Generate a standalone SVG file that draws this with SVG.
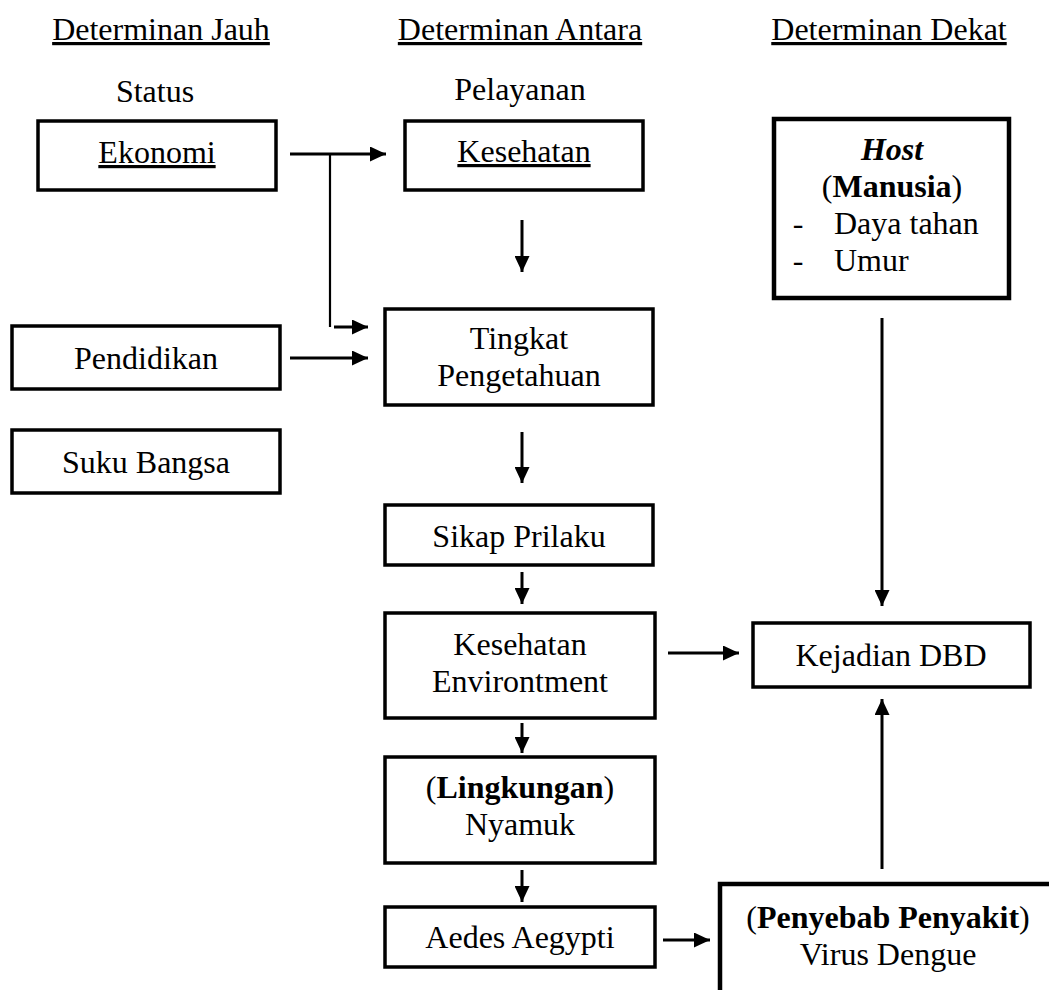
<svg xmlns="http://www.w3.org/2000/svg" width="1049" height="990" viewBox="0 0 1049 990">
<defs>
<style>
text{font-family:"Liberation Serif","Times New Roman",serif;font-size:32px;fill:#000;text-anchor:middle}
text.s{text-anchor:start}
.box{fill:#fff;stroke:#000;stroke-width:3.5}
.thick{stroke-width:4.5}
.ln{stroke:#000;stroke-width:3;fill:none}
.thin{stroke:#000;stroke-width:2.2;fill:none}
.b{font-weight:bold}
.u{text-decoration:underline}
</style>
<marker id="ah" markerWidth="16" markerHeight="15" refX="16" refY="7.5" orient="auto" markerUnits="userSpaceOnUse">
<path d="M0,0 L16,7.5 L0,15 Z" fill="#000"/>
</marker>
</defs>
<rect width="1049" height="990" fill="#fff"/>

<g id="headers">
<text x="161" y="40" class="u">Determinan Jauh</text>
<text x="520" y="40" class="u">Determinan Antara</text>
<text x="889" y="40" class="u">Determinan Dekat</text>
<text x="155" y="102">Status</text>
<text x="520" y="100">Pelayanan</text>
</g>

<g id="connectors">
<line class="ln" x1="290" y1="154" x2="386" y2="154" marker-end="url(#ah)"/>
<line class="thin" x1="330" y1="154" x2="330" y2="327"/>
<line class="ln" x1="334" y1="327" x2="368" y2="327" marker-end="url(#ah)"/>
<line class="ln" x1="290" y1="358" x2="368" y2="358" marker-end="url(#ah)"/>
<line class="ln" x1="522" y1="220" x2="522" y2="272" marker-end="url(#ah)"/>
<line class="ln" x1="522" y1="432" x2="522" y2="483" marker-end="url(#ah)"/>
<line class="ln" x1="522" y1="572" x2="522" y2="604" marker-end="url(#ah)"/>
<line class="ln" x1="522" y1="723" x2="522" y2="753" marker-end="url(#ah)"/>
<line class="ln" x1="522" y1="870" x2="522" y2="902" marker-end="url(#ah)"/>
<line class="ln" x1="668" y1="653" x2="739" y2="653" marker-end="url(#ah)"/>
<line class="ln" x1="663" y1="940" x2="710" y2="940" marker-end="url(#ah)"/>
<line class="ln" x1="882" y1="318" x2="882" y2="606" marker-end="url(#ah)"/>
<line class="ln" x1="882" y1="869" x2="882" y2="699" marker-end="url(#ah)"/>
</g>

<g id="ekonomi">
<rect class="box" x="38" y="121" width="238" height="69"/>
<text x="157" y="163" class="u">Ekonomi</text>
</g>
<g id="pendidikan">
<rect class="box" x="12" y="326" width="268" height="63"/>
<text x="146" y="369">Pendidikan</text>
</g>
<g id="suku-bangsa">
<rect class="box" x="12" y="430" width="268" height="63"/>
<text x="146" y="473">Suku Bangsa</text>
</g>
<g id="kesehatan">
<rect class="box" x="405" y="121" width="238" height="69"/>
<text x="524" y="162" class="u">Kesehatan</text>
</g>
<g id="tingkat-pengetahuan">
<rect class="box" x="385" y="309" width="268" height="96"/>
<text x="519" y="349">Tingkat</text>
<text x="519" y="386">Pengetahuan</text>
</g>
<g id="sikap-prilaku">
<rect class="box" x="385" y="505" width="268" height="60"/>
<text x="519" y="547">Sikap Prilaku</text>
</g>
<g id="kesehatan-environtment">
<rect class="box" x="385" y="613" width="270" height="105"/>
<text x="520" y="655">Kesehatan</text>
<text x="520" y="692">Environtment</text>
</g>
<g id="lingkungan">
<rect class="box" x="385" y="757" width="270" height="106"/>
<text x="520" y="798">(<tspan class="b">Lingkungan</tspan>)</text>
<text x="520" y="835">Nyamuk</text>
</g>
<g id="aedes-aegypti">
<rect class="box" x="385" y="907" width="270" height="60"/>
<text x="520" y="948">Aedes Aegypti</text>
</g>
<g id="host">
<rect class="box thick" x="774" y="119" width="235" height="179"/>
<text x="892" y="160" class="b" font-style="italic">Host</text>
<text x="892" y="197">(<tspan class="b">Manusia</tspan>)</text>
<text x="798" y="234">-</text>
<text x="834" y="234" class="s">Daya tahan</text>
<text x="798" y="271">-</text>
<text x="834" y="271" class="s">Umur</text>
</g>
<g id="kejadian-dbd">
<rect class="box" x="753" y="623" width="277" height="64"/>
<text x="891" y="666">Kejadian DBD</text>
</g>
<g id="penyebab-penyakit">
<rect class="box thick" x="720" y="884" width="340" height="120"/>
<text x="888" y="928">(<tspan class="b">Penyebab Penyakit</tspan>)</text>
<text x="888" y="965">Virus Dengue</text>
</g>
</svg>
